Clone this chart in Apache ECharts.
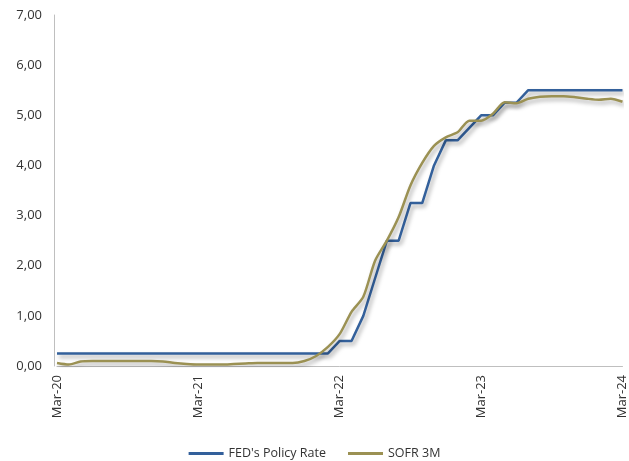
<!DOCTYPE html>
<html>
<head>
<meta charset="utf-8">
<script src="https://cdn.jsdelivr.net/npm/echarts@6/dist/echarts.min.js"></script>
<style>
  html, body { margin: 0; padding: 0; background: #fff; }
  #chart { width: 629px; height: 461px; }
</style>
</head>
<body>
<div id="chart"></div>
<script>
// Monthly observations, Mar-20 .. Mar-24
const months = [
  'Mar-20','Apr-20','May-20','Jun-20','Jul-20','Aug-20','Sep-20','Oct-20','Nov-20','Dec-20',
  'Jan-21','Feb-21','Mar-21','Apr-21','May-21','Jun-21','Jul-21','Aug-21','Sep-21','Oct-21','Nov-21','Dec-21',
  'Jan-22','Feb-22','Mar-22','Apr-22','May-22','Jun-22','Jul-22','Aug-22','Sep-22','Oct-22','Nov-22','Dec-22',
  'Jan-23','Feb-23','Mar-23','Apr-23','May-23','Jun-23','Jul-23','Aug-23','Sep-23','Oct-23','Nov-23','Dec-23',
  'Jan-24','Feb-24','Mar-24'
];

// Fed funds target (upper bound), %
const fedPolicyRate = [
  0.25,0.25,0.25,0.25,0.25,0.25,0.25,0.25,0.25,0.25,
  0.25,0.25,0.25,0.25,0.25,0.25,0.25,0.25,0.25,0.25,0.25,0.25,
  0.25,0.25,0.50,0.50,1.00,1.75,2.50,2.50,3.25,3.25,4.00,4.50,
  4.50,4.75,5.00,5.00,5.25,5.25,5.50,5.50,5.50,5.50,5.50,5.50,
  5.50,5.50,5.50
];

// 3-month SOFR, %
const sofr3m = [
  0.06,0.03,0.09,0.10,0.10,0.10,0.10,0.10,0.10,0.09,
  0.06,0.04,0.03,0.03,0.03,0.04,0.05,0.06,0.06,0.06,0.06,0.10,
  0.20,0.38,0.64,1.08,1.38,2.10,2.50,2.97,3.60,4.05,4.39,4.56,
  4.66,4.89,4.89,5.03,5.26,5.24,5.33,5.37,5.38,5.38,5.36,5.33,
  5.31,5.33,5.27
];

const yTicks = { min: 0, max: 7, interval: 1 };

const chart = echarts.init(document.getElementById('chart'));
const shadow = {
  shadowColor: 'rgba(0,0,0,0.35)',
  shadowBlur: 4,
  shadowOffsetX: 2,
  shadowOffsetY: 3
};

chart.setOption({
  animation: false,
  textStyle: { fontFamily: 'Open Sans' },
  grid: { left: 57, right: 3, top: 15, bottom: 95 },
  legend: {
    top: 442,
    left: 'center',
    icon: 'rect',
    itemWidth: 35,
    itemHeight: 3,
    itemGap: 22,
    textStyle: { fontSize: 12.5, color: '#333', fontFamily: 'Open Sans' },
    data: ["FED's Policy Rate", 'SOFR 3M']
  },
  xAxis: {
    type: 'category',
    data: months,
    boundaryGap: false,
    axisLine: { lineStyle: { color: '#bfbfbf', width: 1 } },
    axisTick: { show: false },
    axisLabel: {
      interval: 11,
      rotate: 90,
      margin: 9,
      fontSize: 13,
      color: '#333'
    },
    splitLine: { show: false }
  },
  yAxis: {
    type: 'value',
    min: yTicks.min,
    max: yTicks.max,
    interval: yTicks.interval,
    offset: 3,
    axisLine: { show: true, lineStyle: { color: '#bfbfbf', width: 1 } },
    axisTick: { show: false },
    splitLine: { show: false },
    axisLabel: {
      fontSize: 13,
      color: '#333',
      margin: 12,
      formatter: v => v.toFixed(2).replace('.', ',')
    }
  },
  series: [
    {
      name: "FED's Policy Rate",
      type: 'line',
      data: fedPolicyRate,
      symbol: 'none',
      color: '#33609b',
      lineStyle: Object.assign({ width: 2.5, color: '#33609b' }, shadow)
    },
    {
      name: 'SOFR 3M',
      type: 'line',
      data: sofr3m,
      symbol: 'none',
      smooth: 0.25,
      color: '#9b9153',
      lineStyle: Object.assign({ width: 2.5, color: '#9b9153' }, shadow)
    }
  ]
});
</script>
</body>
</html>
